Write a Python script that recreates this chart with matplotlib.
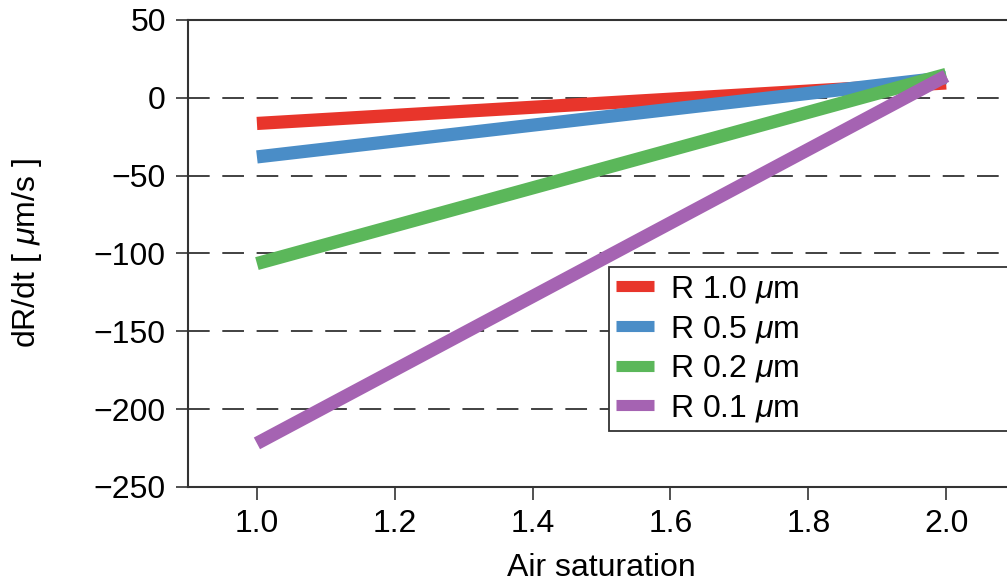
import matplotlib
matplotlib.use("Agg")
import matplotlib.pyplot as plt

plt.rcParams['font.family'] = ['Liberation Sans', 'DejaVu Sans']
plt.rcParams['mathtext.fontset'] = 'custom'
plt.rcParams['mathtext.it'] = 'Liberation Sans:italic'
plt.rcParams['mathtext.rm'] = 'Liberation Sans'

# air saturation values at the ends of each line
air_sat = [1.0, 2.0]

# dR/dt values (um/s) per bubble radius
labels = [r'R 1.0 $\mu$m', r'R 0.5 $\mu$m', r'R 0.2 $\mu$m', r'R 0.1 $\mu$m']
r10 = [-16.5, 9.5]
r05 = [-38, 13]
r02 = [-106.5, 15]
r01 = [-222, 14]
series = [r10, r05, r02, r01]
colors = ['#e8352b', '#4a8dc7', '#5bb75a', '#a563b2']

dash_levels = [0, -50, -100, -150, -200]
yticks = [50, 0, -50, -100, -150, -200, -250]
xticks = [1.0, 1.2, 1.4, 1.6, 1.8, 2.0]

FS = 23

fig = plt.figure(figsize=(10.07, 5.86), dpi=100)
ax = fig.add_axes([0.1867, 0.169, 0.8213, 0.797])

for lvl in dash_levels:
    ax.axhline(lvl, color='#333333', lw=1.3, dashes=(12, 7), zorder=1)

for ys, c, lab in zip(series, colors, labels):
    ax.plot(air_sat, ys, color=c, lw=9.5, solid_capstyle='butt', label=lab, zorder=2)

ax.set_xlim(0.9, 2.1)
ax.set_ylim(-250, 50)
ax.set_xticks(xticks)
ax.set_xticklabels([f'{v:.1f}' for v in xticks])
ax.set_yticks(yticks)
ax.set_yticklabels([f'{v}'.replace('-', '\u2212') for v in yticks])

for s in ax.spines.values():
    s.set_color('#333333')
    s.set_linewidth(1.5)

ax.tick_params(direction='out', length=9, width=1.2, color='#333333',
               labelsize=FS, pad=7)

ax.set_xlabel('Air saturation', fontsize=FS, labelpad=10)
ax.set_ylabel(r'dR/dt [ $\mu$m/s ]', fontsize=FS, labelpad=36)

leg = ax.legend(loc='upper left', bbox_to_anchor=(0.509, 0.122, 0.6, 0.349),
                mode='expand', fontsize=FS, frameon=True, fancybox=False,
                handlelength=1.2, handletextpad=0.5, labelspacing=0.27,
                borderpad=0.22, borderaxespad=0)
leg.get_frame().set_edgecolor('#333333')
leg.get_frame().set_linewidth(1.3)
leg.get_frame().set_alpha(1)
for h in leg.get_lines():
    h.set_linewidth(8)

fig.savefig('out.png', dpi=100)
